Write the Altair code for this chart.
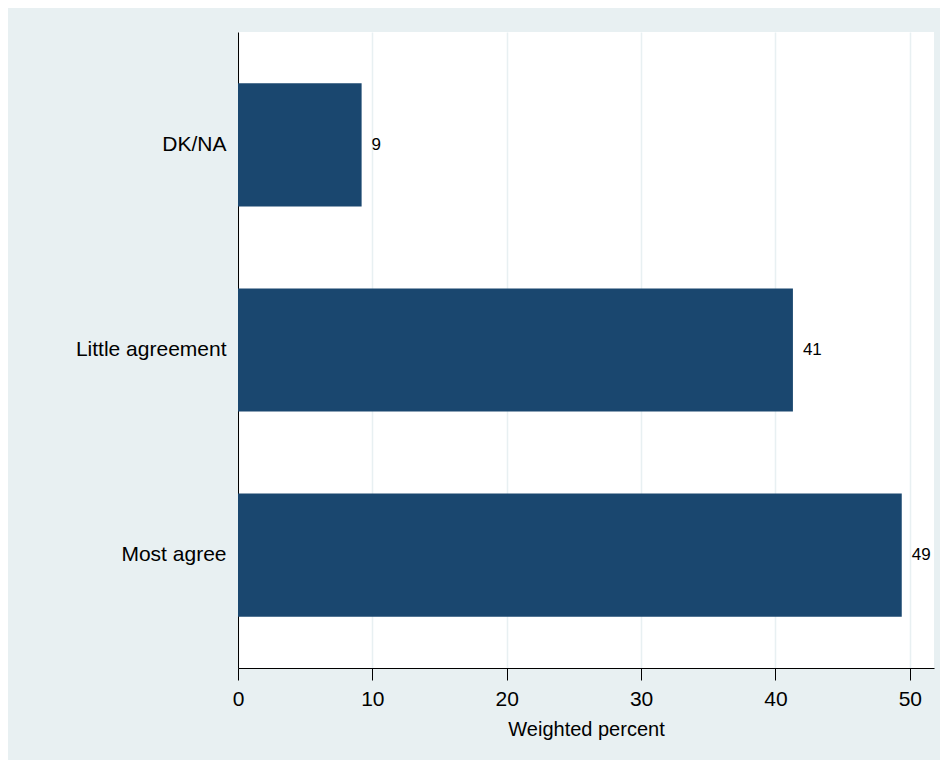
import altair as alt
import pandas as pd

categories = ["DK/NA", "Little agreement", "Most agree"]
values = [9.2, 41.3, 49.4]
labels = ["9", "41", "49"]
x_ticks = [0, 10, 20, 30, 40, 50]

df = pd.DataFrame({"cat": categories, "val": values, "lab": labels})

BG = "#E8F0F2"
BAR = "#1A476F"
FONT = "Liberation Sans, Arial, Helvetica, sans-serif"

y_enc = alt.Y(
    "cat:N",
    sort=categories,
    title=None,
    scale=alt.Scale(paddingInner=0.40, paddingOuter=0.25),
    axis=alt.Axis(
        ticks=False,
        domain=True,
        domainColor="black",
        domainWidth=1,
        labelFontSize=21,
        labelFont=FONT,
        labelColor="black",
        labelPadding=12,
        grid=False,
    ),
)

x_enc = alt.X(
    "val:Q",
    title="Weighted percent",
    scale=alt.Scale(domain=[0, 51.8], nice=False, zero=True),
    axis=alt.Axis(
        values=x_ticks,
        format="d",
        tickSize=12,
        tickColor="black",
        tickWidth=1,
        domainColor="black",
        domainWidth=1,
        labelFontSize=21,
        labelFont=FONT,
        labelColor="black",
        labelPadding=8,
        titleFontSize=20,
        titleFont=FONT,
        titleFontWeight="normal",
        titleColor="black",
        titlePadding=10,
        grid=True,
        gridColor=BG,
        gridWidth=1.5,
        labelFlush=False,
    ),
)

bars = alt.Chart(df).mark_bar(color=BAR).encode(y=y_enc, x=x_enc)

text = alt.Chart(df).mark_text(
    align="left", baseline="middle", dx=10, fontSize=17, font=FONT, color="black"
).encode(y=alt.Y("cat:N", sort=categories), x="val:Q", text="lab:N")

chart = (
    alt.layer(bars, text)
    .properties(
        width=696,
        height=636,
        background=BG,
        padding={"left": 230, "top": 24, "right": 6, "bottom": 92},
        autosize=alt.AutoSizeParams(type="none"),
    )
    .configure_view(fill="white", stroke=None)
)

chart.save("out.html", embed_options={"renderer": "svg", "actions": False})
